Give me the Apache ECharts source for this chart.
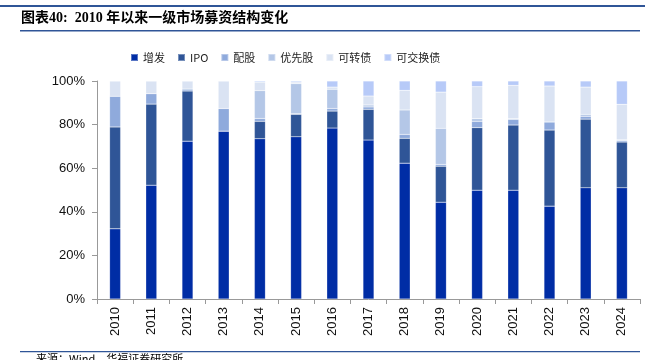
<!DOCTYPE html>
<html>
<head>
<meta charset="utf-8">
<script src="https://cdn.jsdelivr.net/npm/echarts@6/dist/echarts.min.js"></script>
<style>html,body{margin:0;padding:0;background:#fff;}#c{width:660px;height:360px;}</style>
</head>
<body>
<div id="c"></div>
<script>
var years = ['2010','2011','2012','2013','2014','2015','2016','2017','2018','2019','2020','2021','2022','2023','2024'];
var zengfa   = [32.2, 52.2, 72.4, 77.0, 73.5, 74.4, 78.4, 72.9, 62.3, 44.4, 49.9, 49.9, 42.6, 51.0, 51.0];
var ipo      = [46.7, 37.2, 23.0,  0.0,  8.0, 10.3,  7.8, 14.1, 11.4, 16.5, 28.7, 29.9, 34.9, 31.5, 21.0];
var peigu    = [14.1,  4.8,  0.9, 10.4,  1.3,  0.3,  1.2,  1.1,  1.8,  0.8,  2.9,  2.6,  3.7,  1.3,  0.7];
var youxian  = [ 0.0,  0.0,  0.0,  0.0, 12.8, 13.8,  8.8,  0.9, 11.2, 16.6,  1.2,  0.3,  0.0,  0.9,  0.3];
var kezhuan  = [ 7.0,  5.8,  3.7, 12.6,  3.9,  0.7,  1.0,  4.1,  9.0, 16.6, 14.7, 15.3, 16.5, 12.5, 16.3];
var kejiao   = [ 0.0,  0.0,  0.0,  0.0,  0.5,  0.5,  2.8,  6.9,  4.3,  5.1,  2.6,  2.0,  2.3,  2.8, 10.7];
var yTicks = ['0%','20%','40%','60%','80%','100%'];

var names = ['增发','IPO','配股','优先股','可转债','可交换债'];
var datas = [zengfa, ipo, peigu, youxian, kezhuan, kejiao];
var colors = ['#002DA5','#2F5597','#8FAADC','#B4C7E7','#DAE3F3','#B7CAF8'];

var series = names.map(function(n, i){
  return {
    name: n, type: 'bar', stack: 'total', barWidth: 11,
    data: datas[i],
    itemStyle: { color: colors[i], borderColor: 'rgba(255,255,255,0.35)', borderWidth: 0.5 }
  };
});

var chart = echarts.init(document.getElementById('c'), null, {renderer: 'canvas'});
chart.setOption({
  animation: false,
  color: colors,
  grid: { left: 97, right: 20, top: 81, bottom: 61, containLabel: false },
  legend: {
    left: 125, top: 47,
    itemWidth: 7, itemHeight: 7, icon: 'rect', itemGap: 12,
    textStyle: { fontSize: 11, color: '#222', fontFamily: 'Noto Sans CJK SC, Liberation Sans' },
    data: names
  },
  xAxis: {
    type: 'category', data: years,
    axisLine: { lineStyle: { color: '#999', width: 1 } },
    axisTick: { show: true, length: 5, lineStyle: { color: '#999' } },
    axisLabel: { rotate: 90, fontSize: 13, color: '#111', fontFamily: 'Liberation Sans, Arial', margin: 8 }
  },
  yAxis: {
    type: 'value', min: 0, max: 100, interval: 20,
    axisLine: { show: true, lineStyle: { color: '#999', width: 1 } },
    axisTick: { show: true, length: 5, lineStyle: { color: '#999' } },
    splitLine: { show: false },
    axisLabel: {
      fontSize: 13, color: '#111', fontFamily: 'Liberation Sans, Arial', margin: 12,
      formatter: function(v){ return yTicks[Math.round(v/20)]; }
    }
  },
  graphic: [
    { type: 'rect', shape: { x: 0, y: 5, width: 645, height: 2 }, style: { fill: '#2F5597' } },
    { type: 'text', left: 21, top: 11, style: { text: '图表40:  2010 年以来一级市场募资结构变化', fontSize: 14, fontWeight: 'bold', fill: '#000', fontFamily: 'Liberation Serif, Noto Sans CJK SC' } },
    { type: 'rect', shape: { x: 20, y: 30, width: 620, height: 1.5 }, style: { fill: '#2F5597' } },
    { type: 'rect', shape: { x: 20, y: 351, width: 620, height: 1.2 }, style: { fill: '#2F5597' } },
    { type: 'text', left: 36, top: 353, style: { text: '来源：Wind，华福证券研究所', fontSize: 11, fill: '#000', fontFamily: 'Noto Sans CJK SC' } }
  ],
  series: series
});
</script>
</body>
</html>
